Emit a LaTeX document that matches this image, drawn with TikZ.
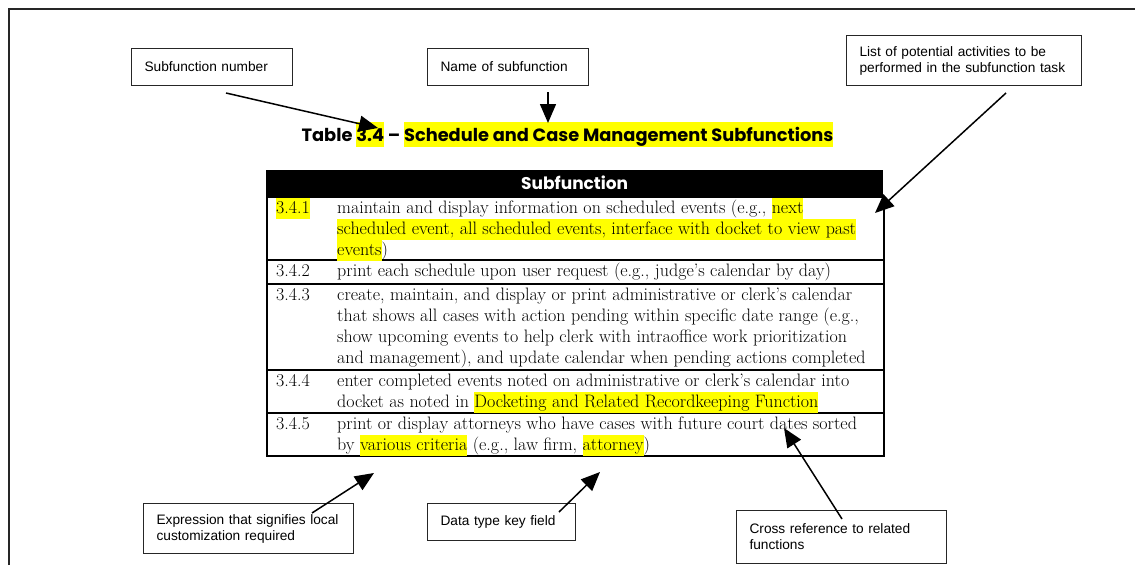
\documentclass[tikz,border=0pt]{standalone}
\usepackage{fontspec}
\usetikzlibrary{arrows.meta}
\newfontfamily\calloutfont{Liberation Sans}
\newfontfamily\titlefont{Poppins}
\definecolor{hly}{RGB}{255,255,0}
\newcommand{\hlstrut}{\rule[-5.3pt]{0pt}{20.8pt}}
\newcommand{\hlx}[1]{{\setlength{\fboxsep}{0pt}\colorbox{hly}{\hlstrut #1}}}
\newcommand{\tlstrut}{\rule[-6pt]{0pt}{25pt}}
\newcommand{\hlt}[1]{{\setlength{\fboxsep}{0pt}\colorbox{hly}{\tlstrut #1}}}
\tikzset{
  frameline/.style={line width=1.6pt, black!85},
  callout/.style={draw, line width=1.1pt, black!85, text=black, anchor=north west,
    font=\calloutfont\fontsize{13.7}{16}\selectfont, align=left, inner xsep=13pt, inner ysep=0pt},
  callarrow/.style={line width=1.5pt, -{Triangle[length=19pt,width=16pt]}},
  rowbox/.style={draw, line width=1.8pt, anchor=north west, minimum width=617pt, inner sep=0pt},
  celltext/.style={anchor=north west, inner sep=0pt, align=left, font=\fontsize{18}{20.8}\selectfont},
}
\begin{document}
\begin{tikzpicture}[x=1pt,y=-1pt]
\useasboundingbox (0,0) rectangle (1135,565);
% frame
\draw[frameline] (9,565) -- (9,9) -- (1135,9);

% title
\node[anchor=base, inner sep=0pt, font=\titlefont\bfseries\fontsize{17.8}{20}\selectfont] (title) at (567.5,141)
  {Table \hlt{3.4} – \hlt{Schedule and Case Management Subfunctions}};

% table
\node[fill=black, anchor=north west, minimum width=617pt, minimum height=26pt, inner sep=0pt,
  text=white, font=\titlefont\bfseries\fontsize{17}{20}\selectfont] (head) at (266,170) {Subfunction};
\node[rowbox, minimum height=63pt] (r1) at (266,196) {};
\node[rowbox, minimum height=24pt] (r2) at (266,259) {};
\node[rowbox, minimum height=86pt] (r3) at (266,283) {};
\node[rowbox, minimum height=43pt] (r4) at (266,369) {};
\node[rowbox, minimum height=43pt] (r5) at (266,412) {};

\node[celltext] (n1) at (276,198) {\hlx{3.4.1}};
\node[celltext] (t1) at (337,198) {\hlstrut maintain and display information on scheduled events (e.g., \hlx{next}\\
\hlx{scheduled event, all scheduled events, interface with docket to view past}\\
\hlx{events})};
\node[celltext] (n2) at (276,261) {\hlstrut 3.4.2};
\node[celltext] (t2) at (337,261) {\hlstrut print each schedule upon user request (e.g., judge’s calendar by day)};
\node[celltext] (n3) at (276,285) {\hlstrut 3.4.3};
\node[celltext] (t3) at (337,285) {\hlstrut create, maintain, and display or print administrative or clerk’s calendar\\
\hlstrut that shows all cases with action pending within specific date range (e.g.,\\
\hlstrut show upcoming events to help clerk with intraoffice work prioritization\\
\hlstrut and management), and update calendar when pending actions completed};
\node[celltext] (n4) at (276,371) {\hlstrut 3.4.4};
\node[celltext] (t4) at (337,371) {\hlstrut enter completed events noted on administrative or clerk’s calendar into\\
\hlstrut docket as noted in \hlx{Docketing and Related Recordkeeping Function}};
\node[celltext] (n5) at (276,414) {\hlstrut 3.4.5};
\node[celltext] (t5) at (337,414) {\hlstrut print or display attorneys who have cases with future court dates sorted\\
\hlstrut by \hlx{various criteria} (e.g., law firm, \hlx{attorney})};

% callouts
\node[callout, minimum width=161pt, minimum height=37pt, text width=135pt] (b1) at (131,48) {Subfunction number};
\node[callout, minimum width=161pt, minimum height=37pt, text width=135pt] (b2) at (427,48) {Name of subfunction};
\node[callout, minimum width=235pt, minimum height=50pt, text width=209pt] (b3) at (846,35) {List of potential activities to be\\performed in the subfunction task};
\node[callout, minimum width=210pt, minimum height=50pt, text width=184pt] (b4) at (143,503) {Expression that signifies local\\customization required};
\node[callout, minimum width=148pt, minimum height=37pt, text width=122pt] (b5) at (427,503) {Data type key field};
\node[callout, minimum width=210pt, minimum height=53pt, text width=184pt] (b6) at (736,510) {Cross reference to related\\functions};

% arrows
\coordinate (a1s) at (226,93);  \coordinate (a1e) at (378,128);
\coordinate (a2s) at (548,92);  \coordinate (a2e) at (548,123);
\coordinate (a3s) at (1006,93); \coordinate (a3e) at (875,213);
\coordinate (a4s) at (312,513); \coordinate (a4e) at (374,473);
\coordinate (a5s) at (559,512); \coordinate (a5e) at (600,472);
\coordinate (a6s) at (842,519); \coordinate (a6e) at (784,428);
\draw[callarrow] (a1s) -- (a1e);
\draw[callarrow] (a2s) -- (a2e);
\draw[callarrow] (a3s) -- (a3e);
\draw[callarrow] (a4s) -- (a4e);
\draw[callarrow] (a5s) -- (a5e);
\draw[callarrow] (a6s) -- (a6e);
\end{tikzpicture}
\end{document}
